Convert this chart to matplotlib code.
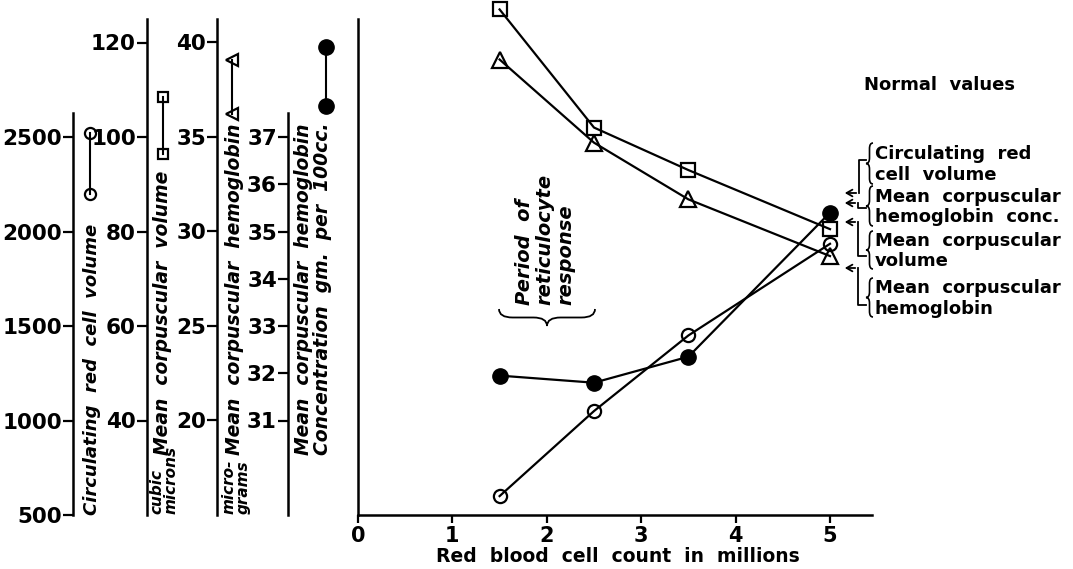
import matplotlib
matplotlib.use("Agg")
import matplotlib.pyplot as plt
from matplotlib.path import Path
from matplotlib.patches import PathPatch, FancyArrowPatch
from matplotlib.lines import Line2D
from matplotlib.transforms import Affine2D

W, H = 1073, 569

# red blood cell count, millions
rbc = [1.5, 2.5, 3.5, 5.0]
red_cell_volume = [600, 1050, 1450, 1935]
mcv = [127, 102, 93, 80.5]
mch = [39.1, 34.7, 31.7, 28.7]
mchc = [31.95, 31.8, 32.35, 35.4]

# normal ranges (the little bars next to each scale)
normal_red_cell_volume = [2200, 2520]
normal_mcv = [96.5, 108.5]
normal_mch = [36.2, 39.1]
normal_mchc = [37.65, 38.9]

red_cell_volume_ticks = [500, 1000, 1500, 2000, 2500]
mcv_ticks = [40, 60, 80, 100, 120]
mch_ticks = [20, 25, 30, 35, 40]
mchc_ticks = [31, 32, 33, 34, 35, 36, 37]
rbc_ticks = [0, 1, 2, 3, 4, 5]

# layout in pixels of the picture (y counted from the top)
Y_BOT, Y_TOP = 515, 19          # bottom / top of all vertical scales
Y_LO, Y_HI = 420.5, 137         # rows shared by 1000/40/20/31 and 2500/100/35/37
X0, X5, X_END = 358, 830, 872   # main plot: count 0, count 5, end of x axis

plt.rcParams['font.family'] = ['DejaVu Sans']
plt.rcParams['font.weight'] = 'bold'

fig = plt.figure(figsize=(W / 100, H / 100), dpi=100)
px = Affine2D().scale(1 / W, -1 / H).translate(0, 1) + fig.transFigure


def frame(x_left, x_right):
    return [x_left / W, 1 - Y_BOT / H, (x_right - x_left) / W, (Y_BOT - Y_TOP) / H]


def ylim_for(lo, hi):
    step = (hi - lo) / (Y_LO - Y_HI)
    return lo - (Y_BOT - Y_LO) * step, hi + (Y_HI - Y_TOP) * step


def value_at(y, lim):
    return lim[0] + (Y_BOT - y) / (Y_BOT - Y_TOP) * (lim[1] - lim[0])


def brace(x, y, length, depth, vertical=False, lw=1.3):
    # curly brace; horizontal one opens upward, vertical one is a "{"
    r = min(depth * 0.8, length / 4)
    h = depth / 2
    L = length
    pts = [(0, 0), (0, h), (r, h), (L / 2 - r, h), (L / 2, h), (L / 2, depth),
           (L / 2, h), (L / 2 + r, h), (L - r, h), (L, h), (L, 0)]
    codes = [Path.MOVETO, Path.CURVE3, Path.CURVE3, Path.LINETO, Path.CURVE3, Path.CURVE3,
             Path.CURVE3, Path.CURVE3, Path.LINETO, Path.CURVE3, Path.CURVE3]
    if vertical:
        pts = [(x - v, y + u) for u, v in pts]
    else:
        pts = [(x + u, y + v) for u, v in pts]
    fig.add_artist(PathPatch(Path(pts, codes), transform=px, fill=False, lw=lw, color='black'))


# ---- main plot ----
ax = fig.add_axes(frame(X0, X_END))
ax.set_xlim(0, (X_END - X0) / ((X5 - X0) / 5))
ax.set_ylim(0, 1)
ax.set_yticks([])
ax.set_xticks(rbc_ticks)
ax.tick_params(axis='x', direction='out', length=6, width=1.6, labelsize=15, pad=2)
for side in ('top', 'right'):
    ax.spines[side].set_visible(False)
for side in ('left', 'bottom'):
    ax.spines[side].set_linewidth(1.8)
ax.patch.set_visible(False)

open_style = dict(mfc='none', mec='black', mew=1.6)
scales = [
    # ref ticks, ticks, series, normal, spine x, spine top, normal offset, marker
    ((1000, 2500), red_cell_volume_ticks, red_cell_volume, normal_red_cell_volume, 73, 113, 17,
     dict(marker='o', ms=9.5, **open_style), dict(marker='o', ms=8, **open_style)),
    ((40, 100), mcv_ticks, mcv, normal_mcv, 147, Y_TOP, 16,
     dict(marker='s', ms=10, **open_style), dict(marker='s', ms=7.5, **open_style)),
    ((20, 35), mch_ticks, mch, normal_mch, 217, Y_TOP, 15,
     dict(marker='^', ms=11, **open_style), dict(marker='<', ms=8.5, **open_style)),
    ((31, 37), mchc_ticks, mchc, normal_mchc, 288, 113, 38,
     dict(marker='o', ms=11, mfc='black', mec='black'), dict(marker='o', ms=11, mfc='black', mec='black')),
]

for refs, ticks, series, normal, sx, stop, noff, mk, nmk in scales:
    lim = ylim_for(*refs)

    # series on the main plot, drawn on its own scale
    tw = ax.twinx()
    tw.set_ylim(lim)
    tw.axis('off')
    tw.plot(rbc, series, color='black', lw=1.6, clip_on=False, **mk)

    # the scale itself, left of the main plot
    sa = fig.add_axes(frame(sx, sx + 60))
    sa.set_ylim(lim)
    sa.set_xlim(0, 60)
    sa.patch.set_visible(False)
    for side in ('top', 'right', 'bottom'):
        sa.spines[side].set_visible(False)
    sa.spines['left'].set_linewidth(1.8)
    sa.spines['left'].set_bounds(lim[0], value_at(stop, lim))
    sa.set_xticks([])
    sa.set_yticks(ticks)
    sa.tick_params(axis='y', direction='out', length=7, width=1.6, labelsize=15.5, pad=1)
    sa.plot([noff, noff], normal, color='black', lw=1.5, clip_on=False, **nmk)

# axis titles, rotated
lab = dict(rotation=90, ha='center', va='bottom', style='italic', transform=px, color='black')
fig.text(92, Y_BOT, 'Circulating  red  cell  volume', fontsize=13, **lab)
fig.text(164, 514, 'cubic\nmicrons', fontsize=11, linespacing=0.95, multialignment='left', **lab)
fig.text(163, 455, 'Mean  corpuscular  volume', fontsize=13.5, **lab)
fig.text(236, 514, 'micro-\ngrams', fontsize=11, linespacing=0.95, multialignment='left', **lab)
fig.text(235, 455, 'Mean  corpuscular  hemoglobin', fontsize=13.5, **lab)
fig.text(313, 455, 'Mean  corpuscular  hemoglobin\nConcentration  gm.  per  100cc.',
         fontsize=13.5, linespacing=1.0, multialignment='left', **lab)

# period of reticulocyte response
fig.text(545, 305, 'Period  of\nreticulocyte\nresponse', fontsize=14, linespacing=1.1,
         multialignment='left', **lab)
brace(499, 309, 96, 17)

# x label
fig.text(618, 557, 'Red  blood  cell  count  in  millions', fontsize=13.5, ha='center', va='center',
         transform=px)

# normal values key
fig.text(939, 85, 'Normal  values', fontsize=13, ha='center', va='center', transform=px)
key = [
    ('Circulating  red\ncell  volume', 143, 184, [(866, 160), (859, 160), (859, 193)], 193),
    ('Mean  corpuscular\nhemoglobin  conc.', 186, 226, [(866, 208), (858, 208), (858, 203)], 203),
    ('Mean  corpuscular\nvolume', 231, 269, [(866, 256), (858, 256), (858, 222)], 222),
    ('Mean  corpuscular\nhemoglobin', 278, 317, [(866, 305), (858, 305), (858, 268)], 268),
]
for text, ya, yb, path, ay in key:
    fig.text(875, (ya + yb) / 2 + 1, text, fontsize=13, ha='left', va='center', linespacing=1.15,
             transform=px)
    brace(873, ya, yb - ya, 7, vertical=True, lw=1.2)
    xs, ys = zip(*path)
    fig.add_artist(Line2D(xs, ys, transform=px, color='black', lw=1.3))
    fig.add_artist(FancyArrowPatch((path[-1][0], ay), (842, ay), transform=px,
                                   arrowstyle='->,head_length=0.35,head_width=0.2',
                                   mutation_scale=12, lw=1.3, color='black'))

fig.savefig('out.png', dpi=100)
